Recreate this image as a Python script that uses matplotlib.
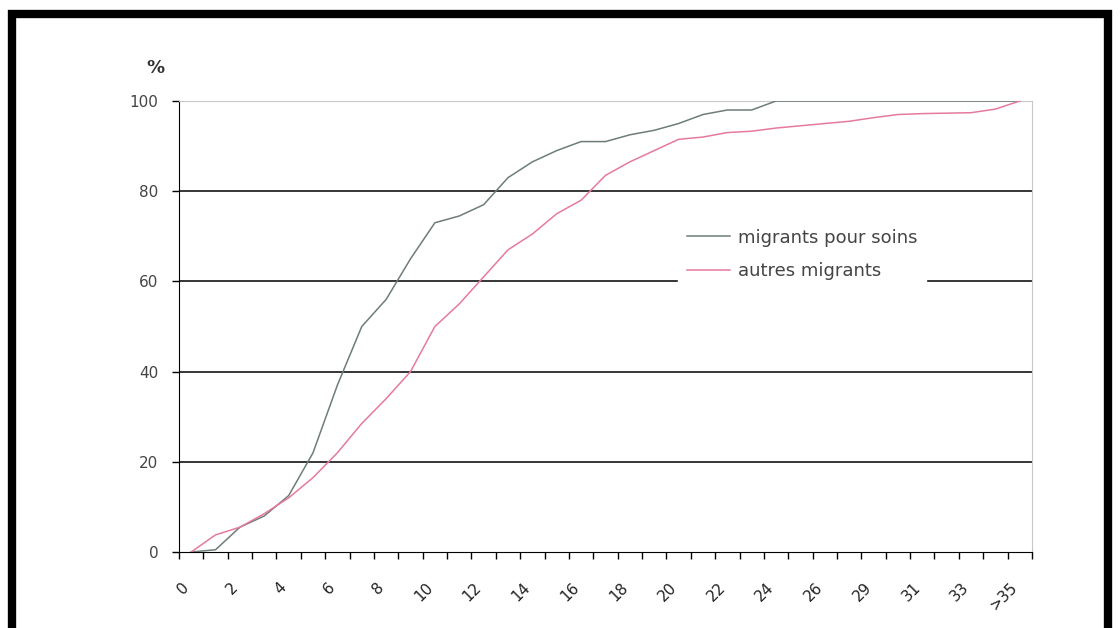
import matplotlib.pyplot as plt
from matplotlib.patches import Rectangle

# categories (months) - labels shown every 2 categories
cat_labels = [str(i) for i in range(28)] + ["29", "30", "31", "32", "33", "34", ">35"]

soins = [0, 0.5, 5.5, 8, 12.5, 22, 37, 50, 56, 65, 73, 74.5, 77, 83, 86.5,
         89, 91, 91, 92.5, 93.5, 95, 97, 98, 98, 100, 100, 100, 100, 100,
         100, 100, 100, 100, 100, 100]
autres = [0, 3.8, 5.5, 8.5, 12, 16.5, 22, 28.5, 34, 40, 50, 55, 61, 67, 70.5,
          75, 78, 83.5, 86.5, 89, 91.5, 92, 93, 93.3, 94, 94.5, 95, 95.5, 96.3,
          97, 97.2, 97.3, 97.4, 98.2, 100]

fig = plt.figure(figsize=(11.2, 6.28), dpi=100)
ax = fig.add_axes([0.1598, 0.121, 0.9214 - 0.1598, 0.8392 - 0.121])

x = list(range(len(cat_labels)))
ax.plot(x, soins, color="#6e7d76", lw=1.1, label="migrants pour soins", zorder=3)
ax.plot(x, autres, color="#e57a9c", lw=1.1, label="autres migrants", zorder=3)

ax.set_xlim(-0.5, len(cat_labels) - 0.5)
ax.set_ylim(0, 100)

for v in [20, 40, 60, 80]:
    ax.axhline(v, color="black", lw=1.1, zorder=1)

ax.set_yticks([0, 20, 40, 60, 80, 100])
ax.set_yticklabels(["0", "20", "40", "60", "80", "100"], fontsize=11, color="#444444")
ax.tick_params(axis="y", direction="out", length=5, width=1, pad=10)

ax.set_xticks([i - 0.5 for i in range(len(cat_labels) + 1)])
ax.set_xticklabels([])
ax.tick_params(axis="x", which="major", direction="out", length=5, width=1)
# labels sit near the left tick of each labelled category
ax.set_xticks([i - 0.4 for i in x[::2]], minor=True)
ax.set_xticklabels(cat_labels[::2], minor=True, rotation=45, ha="right",
                   rotation_mode="anchor", fontsize=11, color="#222222")
ax.tick_params(axis="x", which="minor", length=0, pad=20)

ax.spines["left"].set_color("black")
ax.spines["bottom"].set_color("black")
ax.spines["top"].set_color("#c8c8c8")
ax.spines["right"].set_color("#c8c8c8")

leg = ax.legend(loc="upper left", bbox_to_anchor=(0.585, 0.737), frameon=True,
                fontsize=13, handlelength=2.4, handletextpad=0.4,
                borderpad=0.5, labelspacing=0.85, borderaxespad=0)
leg.get_frame().set_edgecolor("white")
leg.get_frame().set_facecolor("white")
leg.get_frame().set_alpha(1)
leg.get_frame().set_boxstyle("square", pad=0)
for t in leg.get_texts():
    t.set_color("#444444")

fig.text(155 / 1120, 1 - 68 / 628, "%", fontsize=13, fontweight="bold",
         ha="center", va="center", color="#333333")

# black frame around the picture
fig.patches.append(Rectangle((12 / 1120, -0.05), (1108 - 12) / 1120, 1.05 - 14 / 628,
                             transform=fig.transFigure, fill=False,
                             edgecolor="black", lw=6))

fig.savefig("out.png", dpi=100)
